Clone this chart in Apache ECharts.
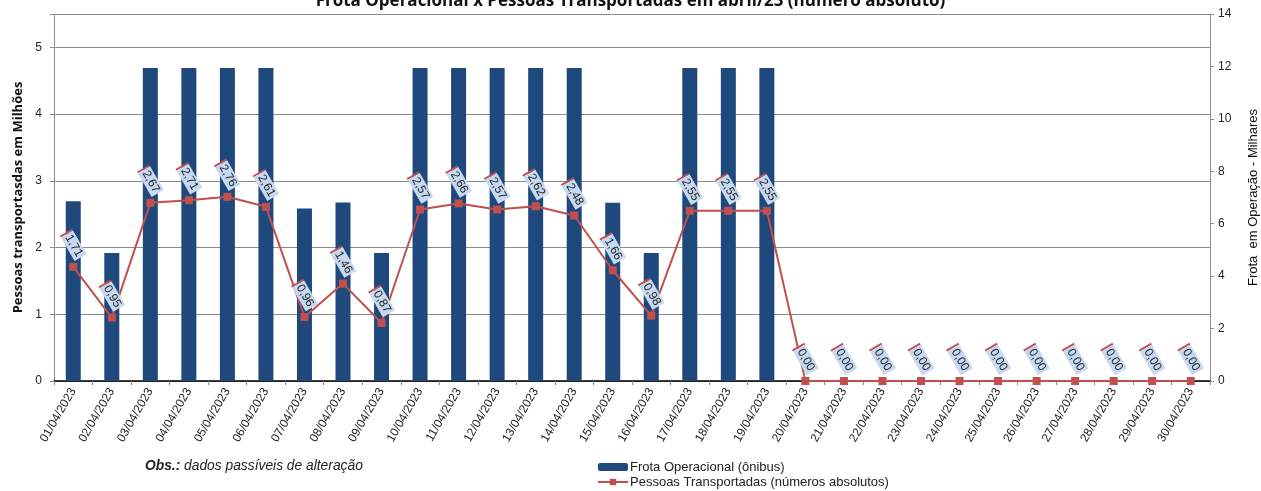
<!DOCTYPE html>
<html>
<head>
<meta charset="utf-8">
<script src="https://cdn.jsdelivr.net/npm/echarts@6/dist/echarts.min.js"></script>
<style>
  html, body { margin: 0; padding: 0; background: #fff; }
  #chart { width: 1261px; height: 491px; }
</style>
</head>
<body>
<div id="chart"></div>
<script>
// dias de abril/23
const dias = [];
for (let d = 1; d <= 30; d++) dias.push((d < 10 ? '0' + d : '' + d) + '/04/2023');

// frota em operação (milhares) - eixo direito
const frota = [6.86, 4.88, 11.94, 11.94, 11.94, 11.94, 6.58, 6.81, 4.88, 11.94,
  11.94, 11.94, 11.94, 11.94, 6.80, 4.88, 11.94, 11.94, 11.94, 0,
  0, 0, 0, 0, 0, 0, 0, 0, 0, 0];

// pessoas transportadas (milhões) - eixo esquerdo
const pessoas = [1.71, 0.95, 2.67, 2.71, 2.76, 2.61, 0.96, 1.46, 0.87, 2.57,
  2.66, 2.57, 2.62, 2.48, 1.66, 0.98, 2.55, 2.55, 2.55, 0,
  0, 0, 0, 0, 0, 0, 0, 0, 0, 0];

const chart = echarts.init(document.getElementById('chart'));
const fonte = '"Liberation Sans", Arial, sans-serif';

chart.setOption({
  animation: false,
  title: {
    text: 'Frota Operacional x Pessoas Transportadas em abril/23 (número absoluto)',
    left: 'center',
    top: -12,
    textStyle: { fontFamily: '"Open Sans", sans-serif', fontWeight: 'bold', fontSize: 17, color: '#111' }
  },
  grid: { left: 54, right: 51, top: 14, bottom: 110, outerBoundsMode: 'none', containLabel: false },
  legend: {
    orient: 'vertical',
    left: 597,
    top: 460,
    padding: 0,
    itemGap: 1,
    itemWidth: 30,
    itemHeight: 8,
    textStyle: { fontFamily: fonte, fontSize: 13, color: '#222', lineHeight: 14, padding: [0, 0, 0, -3] },
    data: ['Frota Operacional (ônibus)', 'Pessoas Transportadas (números absolutos)']
  },
  graphic: [{
    type: 'text',
    left: 145,
    top: 459,
    style: {
      text: '{b|Obs.:} dados passíveis de alteração',
      font: 'italic 13.8px ' + fonte,
      fill: '#222',
      rich: { b: { fontWeight: 'bold', fontStyle: 'italic', fontSize: 13.8, fontFamily: fonte } }
    }
  }],
  xAxis: [{
    type: 'category',
    data: dias,
    axisLine: { lineStyle: { color: '#8c8c8c' } },
    axisTick: { show: true, length: 4, lineStyle: { color: '#8c8c8c' } },
    axisLabel: { rotate: 60, interval: 0, fontFamily: fonte, fontSize: 12, color: '#222', margin: 8 }
  }, {
    type: 'category',
    data: dias,
    position: 'top',
    axisLine: { lineStyle: { color: '#000', width: 1.5 } },
    axisTick: { show: false },
    axisLabel: { show: false }
  }],
  yAxis: [{
    type: 'value',
    min: 0,
    max: 5.5,
    interval: 1,
    name: 'Pessoas transportasdas em Milhões',
    nameLocation: 'middle',
    nameRotate: 90,
    nameGap: 29,
    nameTextStyle: { fontFamily: '"Open Sans", sans-serif', fontWeight: 'bold', fontSize: 13, color: '#111' },
    axisLine: { show: true, lineStyle: { color: '#8c8c8c' } },
    axisTick: { show: true, length: 4, lineStyle: { color: '#8c8c8c' } },
    axisLabel: {
      fontFamily: fonte, fontSize: 12, color: '#222', margin: 12,
      formatter: v => (v % 1 === 0 ? String(v) : '')
    },
    splitLine: { show: true, lineStyle: { color: '#8c8c8c' } }
  }, {
    type: 'value',
    min: 0,
    max: 14,
    interval: 2,
    position: 'right',
    name: 'Frota  em Operação - Milhares',
    nameLocation: 'middle',
    nameRotate: 90,
    nameGap: 37,
    nameTextStyle: { fontFamily: fonte, fontSize: 13, color: '#111' },
    axisLine: { show: true, lineStyle: { color: '#8c8c8c' } },
    axisTick: { show: true, length: 4, lineStyle: { color: '#8c8c8c' } },
    axisLabel: { fontFamily: fonte, fontSize: 12, color: '#222', margin: 8 },
    splitLine: { show: false }
  }],
  series: [{
    name: 'Frota Operacional (ônibus)',
    type: 'bar',
    yAxisIndex: 1,
    data: frota,
    barWidth: 15,
    itemStyle: { color: '#1f497d' }
  }, {
    name: 'Pessoas Transportadas (números absolutos)',
    type: 'line',
    yAxisIndex: 0,
    data: pessoas,
    symbol: 'rect',
    symbolSize: 8,
    lineStyle: { color: '#c0504d', width: 2 },
    itemStyle: { color: '#c0504d' },
    label: {
      show: true,
      position: 'top',
      distance: 18,
      rotate: -60,
      align: 'center',
      verticalAlign: 'middle',
      formatter: p => '{r|}{t|' + p.value.toFixed(2).replace('.', ',') + '}',
      rich: {
        r: { backgroundColor: '#c0504d', width: 2, height: 14 },
        t: { backgroundColor: '#c6d9f1', color: '#222', fontFamily: fonte, fontSize: 12, height: 14, padding: [0, 2] }
      }
    }
  }]
});
</script>
</body>
</html>
